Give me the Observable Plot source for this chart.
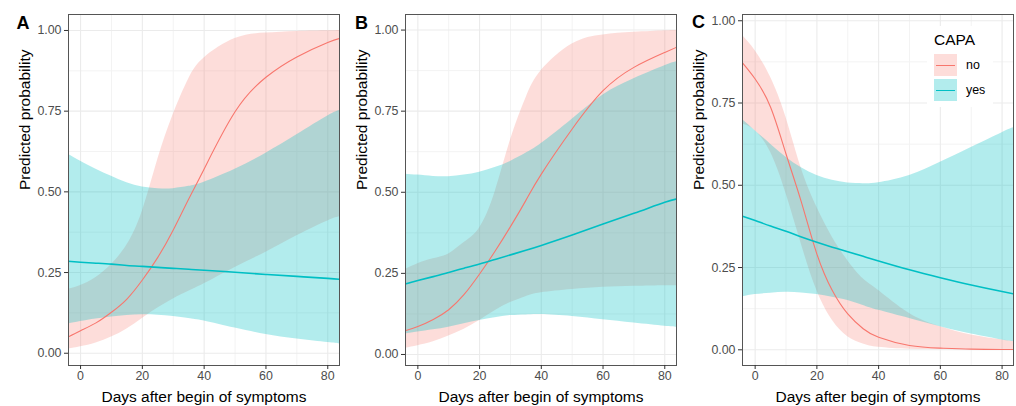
<!DOCTYPE html>
<html><head><meta charset="utf-8">
<script src="https://cdn.jsdelivr.net/npm/d3@7"></script>
<script src="https://cdn.jsdelivr.net/npm/@observablehq/plot@0.6"></script>
<style>
body{margin:0;background:#fff;font-family:"Liberation Sans",Arial,sans-serif;}
#wrap{position:relative;width:1016px;height:406px;overflow:hidden;background:#fff;}
.panel{position:absolute;top:0;}
.letter{position:absolute;font-weight:bold;font-size:18px;line-height:18px;color:#000;}
#legend{position:absolute;left:927px;top:26px;width:66px;height:81px;background:#fff;}
#legend .title{position:absolute;left:7px;top:6px;font-size:15.5px;line-height:15.5px;color:#000;}
#legend .key{position:absolute;left:7px;width:23px;height:22px;}
#legend .key .ln{position:absolute;left:2px;right:2px;top:10.5px;}
#legend .lab{position:absolute;left:39px;font-size:12.4px;line-height:12.4px;color:#000;}
</style></head><body><div id="wrap"></div>
<script>
// ---- data ----
const panels = ["A", "B", "C"];
const groups = ["no", "yes"];
const xTicks = [0, 20, 40, 60, 80];
const xMinor = [10, 30, 50, 70];
const yTicks = [0, 0.25, 0.5, 0.75, 1];
const yMinor = [0.125, 0.375, 0.625, 0.875];
const xs = [-4.1, 0, 5, 10, 15, 20, 25, 30, 35, 40, 50, 60, 70, 80, 83.8];

const A_no    = [0.050, 0.070, 0.094, 0.127, 0.168, 0.227, 0.297, 0.382, 0.478, 0.571, 0.748, 0.855, 0.918, 0.963, 0.975];
const A_noLo  = [0.013, 0.020, 0.032, 0.050, 0.075, 0.108, 0.140, 0.168, 0.192, 0.215, 0.266, 0.313, 0.364, 0.410, 0.423];
const A_noHi  = [0.198, 0.210, 0.235, 0.275, 0.335, 0.440, 0.600, 0.740, 0.850, 0.915, 0.975, 0.992, 0.997, 0.999, 1.000];
const A_yes   = [0.285, 0.282, 0.279, 0.276, 0.272, 0.269, 0.266, 0.263, 0.260, 0.257, 0.251, 0.244, 0.238, 0.232, 0.229];
const A_yesLo = [0.090, 0.098, 0.106, 0.112, 0.117, 0.119, 0.118, 0.114, 0.108, 0.100, 0.078, 0.058, 0.044, 0.033, 0.029];
const A_yesHi = [0.617, 0.595, 0.570, 0.548, 0.528, 0.515, 0.510, 0.510, 0.517, 0.530, 0.570, 0.620, 0.677, 0.735, 0.752];

const B_no    = [0.073, 0.086, 0.108, 0.138, 0.185, 0.248, 0.318, 0.394, 0.475, 0.556, 0.695, 0.813, 0.885, 0.931, 0.947];
const B_noLo  = [0.019, 0.027, 0.039, 0.057, 0.078, 0.105, 0.135, 0.160, 0.178, 0.190, 0.200, 0.207, 0.210, 0.212, 0.212];
const B_noHi  = [0.262, 0.280, 0.295, 0.310, 0.345, 0.390, 0.500, 0.660, 0.790, 0.875, 0.957, 0.985, 0.993, 0.998, 0.999];
const B_yes   = [0.217, 0.228, 0.240, 0.253, 0.266, 0.279, 0.293, 0.307, 0.321, 0.336, 0.368, 0.402, 0.435, 0.469, 0.479];
const B_yesLo = [0.063, 0.069, 0.076, 0.084, 0.095, 0.105, 0.113, 0.120, 0.122, 0.123, 0.117, 0.107, 0.097, 0.087, 0.084];
const B_yesHi = [0.556, 0.553, 0.549, 0.548, 0.553, 0.562, 0.576, 0.595, 0.620, 0.650, 0.725, 0.800, 0.850, 0.890, 0.902];

const C_no    = [0.872, 0.823, 0.737, 0.595, 0.448, 0.291, 0.180, 0.109, 0.064, 0.038, 0.013, 0.005, 0.002, 0.001, 0.001];
const C_noLo  = [0.686, 0.666, 0.600, 0.475, 0.320, 0.180, 0.090, 0.040, 0.018, 0.008, 0.002, 0.001, 0.000, 0.000, 0.000];
const C_noHi  = [0.955, 0.909, 0.828, 0.706, 0.550, 0.433, 0.342, 0.271, 0.216, 0.180, 0.110, 0.070, 0.045, 0.030, 0.026];
const C_yes   = [0.406, 0.393, 0.376, 0.360, 0.343, 0.327, 0.312, 0.298, 0.284, 0.270, 0.243, 0.219, 0.197, 0.177, 0.170];
const C_yesLo = [0.161, 0.168, 0.172, 0.175, 0.173, 0.168, 0.160, 0.150, 0.135, 0.120, 0.095, 0.070, 0.048, 0.030, 0.025];
const C_yesHi = [0.700, 0.666, 0.625, 0.585, 0.553, 0.530, 0.515, 0.507, 0.505, 0.508, 0.530, 0.570, 0.615, 0.660, 0.675];

const xLabel = "Days after begin of symptoms";
const yLabel = "Predicted probability";
const legendTitle = "CAPA";

// ---- drawing ----
const RED = "#F8766D", CYAN = "#00BFC4";
const series = {
  A: {no: A_no, noLo: A_noLo, noHi: A_noHi, yes: A_yes, yesLo: A_yesLo, yesHi: A_yesHi},
  B: {no: B_no, noLo: B_noLo, noHi: B_noHi, yes: B_yes, yesLo: B_yesLo, yesHi: B_yesHi},
  C: {no: C_no, noLo: C_noLo, noHi: C_noHi, yes: C_yes, yesLo: C_yesLo, yesHi: C_yesHi}
};
const layout = {
  A: {left: 0,   xd: [-3.9, 83.8], yd: [-0.038, 1.0495], lx: 16.5, ly: 14},
  B: {left: 337, xd: [-4.0, 83.8], yd: [-0.034, 1.048],  lx: 355,  ly: 14},
  C: {left: 674, xd: [-4.1, 83.7], yd: [-0.0477, 1.019], lx: 692,  ly: 13}
};
const wrap = document.getElementById("wrap");
const curve = "natural";

for (const p of panels) {
  const s = series[p], L = layout[p];
  const rows = xs.map((x, i) => ({x, no: s.no[i], noLo: s.noLo[i], noHi: s.noHi[i], yes: s.yes[i], yesLo: s.yesLo[i], yesHi: s.yesHi[i]}));
  const chart = Plot.plot({
    width: 340, height: 406,
    marginLeft: 68, marginRight: 1, marginTop: 14, marginBottom: 41,
    style: {fontFamily: "Liberation Sans, Arial, sans-serif", fontSize: "12.4px", color: "#4D4D4D", background: "transparent", overflow: "visible"},
    x: {domain: L.xd},
    y: {domain: L.yd},
    marks: [
      Plot.ruleX(xMinor, {stroke: "#F3F3F3", strokeWidth: 1}),
      Plot.ruleY(yMinor, {stroke: "#F3F3F3", strokeWidth: 1}),
      Plot.ruleX(xTicks, {stroke: "#EBEBEB", strokeWidth: 1.1}),
      Plot.ruleY(yTicks, {stroke: "#EBEBEB", strokeWidth: 1.1}),
      Plot.areaY(rows, {x: "x", y1: "noLo", y2: "noHi", fill: RED, fillOpacity: 0.25, curve, clip: true}),
      Plot.areaY(rows, {x: "x", y1: "yesLo", y2: "yesHi", fill: CYAN, fillOpacity: 0.3, curve, clip: true}),
      Plot.line(rows, {x: "x", y: "no", stroke: RED, strokeWidth: 1.1, curve, clip: true}),
      Plot.line(rows, {x: "x", y: "yes", stroke: CYAN, strokeWidth: 1.6, curve, clip: true}),
      Plot.frame({stroke: "#555", strokeWidth: 1}),
      Plot.axisX(xTicks, {tickSize: 4, tickPadding: 2, stroke: "#333", fill: "#4D4D4D", label: null, tickFormat: d => String(d)}),
      Plot.axisY(yTicks, {tickSize: 4, tickPadding: 3, stroke: "#333", fill: "#4D4D4D", label: null, tickFormat: d3.format(".2f")}),
      Plot.text([xLabel], {text: d => d, frameAnchor: "bottom", dy: 36, lineAnchor: "bottom", fontSize: 15.5, fill: "#000"}),
      Plot.text([yLabel], {text: d => d, frameAnchor: "left", dx: -50, rotate: -90, lineAnchor: "top", fontSize: 15.5, fill: "#000"})
    ]
  });
  chart.classList.add("panel");
  chart.style.left = L.left + "px";
  wrap.appendChild(chart);
  const lt = document.createElement("div");
  lt.className = "letter";
  lt.textContent = p;
  lt.style.left = L.lx + "px";
  lt.style.top = L.ly + "px";
  wrap.appendChild(lt);
}

// legend (inside panel C)
const leg = document.createElement("div");
leg.id = "legend";
let html = `<div class="title">${legendTitle}</div>`;
groups.forEach((g, i) => {
  const col = g === "no" ? RED : CYAN;
  const bg = g === "no" ? "rgba(248,118,109,0.25)" : "rgba(0,191,196,0.3)";
  const top = 28 + i * 25;
  html += `<div class="key" style="top:${top}px;background:${bg}"><div class="ln" style="border-top:${g === "no" ? 1.3 : 1.8}px solid ${col}"></div></div>`;
  html += `<div class="lab" style="top:${top + 5}px">${g}</div>`;
});
leg.innerHTML = html;
wrap.appendChild(leg);
</script></body></html>
